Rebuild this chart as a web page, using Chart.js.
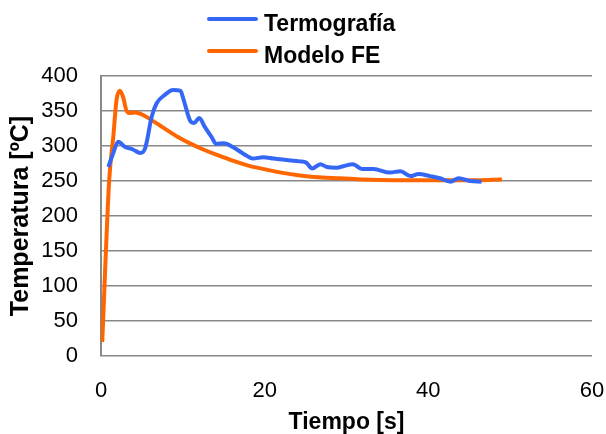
<!DOCTYPE html>
<html>
<head>
<meta charset="utf-8">
<script src="https://cdn.jsdelivr.net/npm/chart.js@4"></script>
<style>
  html, body { margin: 0; padding: 0; background: #fff; }
  #wrap { width: 606px; height: 434px; position: relative; }
</style>
</head>
<body>
<div id="wrap"><canvas id="chart" width="606" height="434"></canvas></div>
<script>
// Termografía (measured)
const timeTermo = [0.9, 1.5, 2.1, 2.9, 3.9, 4.8, 5.4, 6.2, 6.8, 7.8, 8.8, 9.7, 10.1, 10.9, 11.4, 12.0, 12.7, 13.5, 14.1, 15.0, 16.2, 17.4, 18.6, 19.8, 21.1, 22.7, 24.3, 25.1, 25.8, 26.8, 27.6, 28.8, 29.6, 30.8, 31.9, 33.3, 35.3, 36.6, 37.8, 38.8, 40.2, 41.4, 42.7, 43.7, 45.1, 46.5];
const tempTermo = [270, 290, 306, 299, 295, 290, 297, 342, 361, 373, 380, 379, 366, 336, 333, 340, 327, 313, 303, 304, 298, 289, 282, 284, 282, 280, 278, 276, 268, 274, 270, 269, 271, 274, 267, 267, 262, 264, 257, 260, 257, 254, 249, 254, 250, 249];

// Modelo FE (simulated)
const timeModelo = [0.15, 1.0, 1.5, 1.9, 2.3, 2.7, 3.1, 3.5, 4.2, 5.0, 6.2, 7.5, 9.4, 11.0, 12.5, 14.0, 15.2, 16.1, 18.0, 20.3, 22.0, 24.3, 27.0, 29.2, 32.0, 36.0, 40.0, 44.0, 49.0];
const tempModelo = [20, 251, 313, 366, 379, 370, 351, 347, 348, 345, 337, 327, 313, 303, 295, 288, 283, 279, 272, 266, 262, 258, 255, 254, 252, 251, 251, 251, 252];

const xTicks = [0, 20, 40, 60];
const yTicks = [0, 50, 100, 150, 200, 250, 300, 350, 400];

const seriesLabels = ['Termografía', 'Modelo FE'];
const seriesColors = ['#3567f7', '#ff6600'];

const toPoints = (xs, ys) => xs.map((x, i) => ({ x: x, y: ys[i] }));

const gridColor = '#888888';
const fontFamily = "'Liberation Sans', Arial, sans-serif";
const tickFont = { family: fontFamily, size: 22 };

// legend stacked in two rows, drawn by hand
const stackedLegend = {
    id: 'stackedLegend',
    afterDraw(chart) {
        const ctx = chart.ctx;
        ctx.save();
        ctx.font = "bold 23px " + fontFamily;
        ctx.textBaseline = 'alphabetic';
        ctx.textAlign = 'left';
        chart.data.datasets.forEach((ds, i) => {
            const lineY = 19 + i * 32;
            ctx.strokeStyle = ds.borderColor;
            ctx.lineWidth = 4;
            ctx.lineCap = 'round';
            ctx.beginPath();
            ctx.moveTo(209, lineY);
            ctx.lineTo(256, lineY);
            ctx.stroke();
            ctx.fillStyle = '#000';
            ctx.fillText(ds.label, 264, lineY + 11.5);
        });
        ctx.restore();
    }
};

new Chart(document.getElementById('chart'), {
    type: 'line',
    data: {
        datasets: [
            {
                label: seriesLabels[0],
                data: toPoints(timeTermo, tempTermo),
                borderColor: seriesColors[0],
                borderWidth: 4,
                pointRadius: 0,
                cubicInterpolationMode: 'monotone',
                fill: false
            },
            {
                label: seriesLabels[1],
                data: toPoints(timeModelo, tempModelo),
                borderColor: seriesColors[1],
                borderWidth: 4,
                pointRadius: 0,
                cubicInterpolationMode: 'monotone',
                fill: false
            }
        ]
    },
    options: {
        responsive: false,
        animation: false,
        layout: { padding: { top: 76, right: 14, bottom: 0, left: 0 } },
        plugins: {
            legend: { display: false },
            tooltip: { enabled: false }
        },
        scales: {
            x: {
                type: 'linear',
                min: 0,
                max: 60,
                afterBuildTicks: (scale) => { scale.ticks = xTicks.map(v => ({ value: v })); },
                afterFit: (scale) => {
                    scale.height = 78;
                    scale.paddingLeft = 0;
                    scale.paddingRight = 0;
                },
                grid: { display: false, drawTicks: false },
                border: { display: false },
                ticks: { color: '#000', font: tickFont, padding: 22, maxRotation: 0 },
                title: {
                    display: true, text: 'Tiempo [s]', color: '#000', padding: 0,
                    font: { family: fontFamily, size: 23, weight: 'bold', lineHeight: 1 }
                }
            },
            y: {
                min: 0,
                max: 400,
                afterBuildTicks: (scale) => { scale.ticks = yTicks.map(v => ({ value: v })); },
                afterFit: (scale) => { scale.width = 101; },
                grid: { color: gridColor, lineWidth: 1.6, drawTicks: false },
                border: { display: true, color: gridColor, width: 2 },
                ticks: { color: '#000', font: tickFont, padding: 23 },
                title: {
                    display: true, text: 'Temperatura [ºC]', color: '#000', padding: { top: 9, bottom: 0 },
                    font: { family: fontFamily, size: 25, weight: 'bold', lineHeight: 1 }
                }
            }
        }
    },
    plugins: [stackedLegend]
});
</script>
</body>
</html>
